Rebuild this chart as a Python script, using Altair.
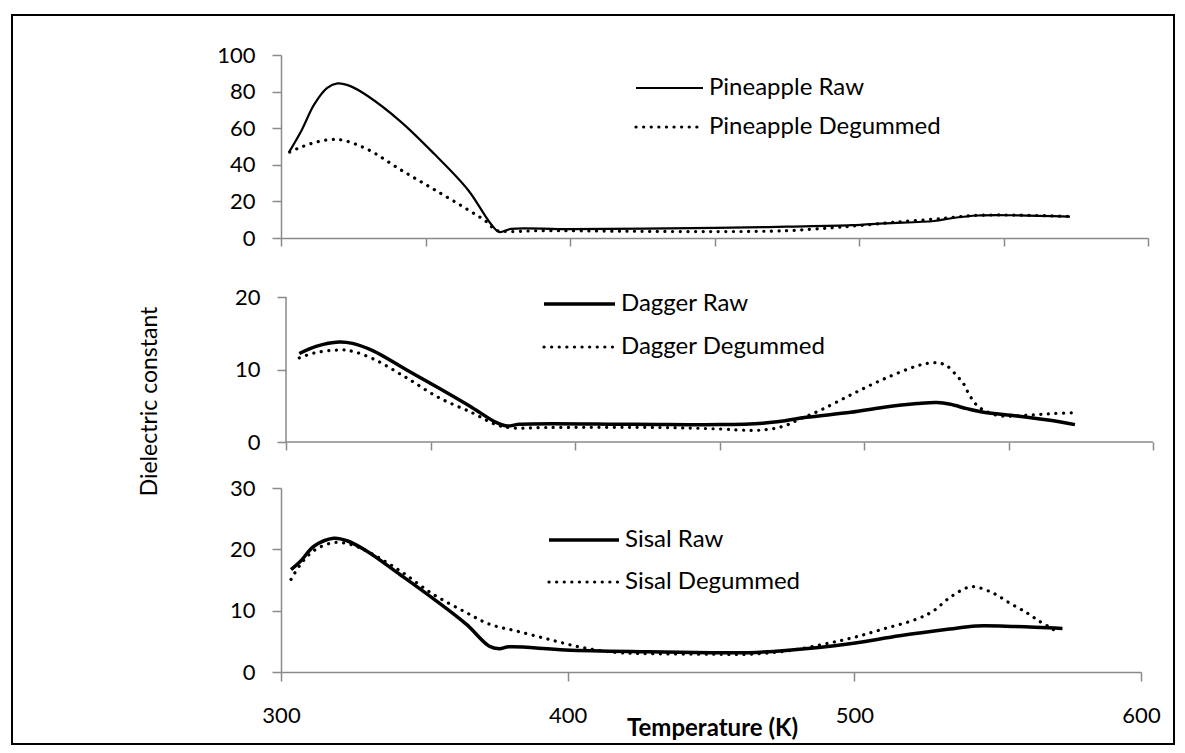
import altair as alt
import pandas as pd

FONT = "Lato"
INK = "#000000"
AXIS_GRAY = "#8a8a8a"

# ---------------- data ----------------
x_ticks_minor = [300, 350, 400, 450, 500, 550, 600]
x_ticks_major = [300, 400, 500, 600]

pine_y_ticks = [0, 20, 40, 60, 80, 100]
dag_y_ticks = [0, 10, 20]
sis_y_ticks = [0, 10, 20, 30]

pine_labels = ["Pineapple Raw", "Pineapple Degummed"]
dag_labels = ["Dagger Raw", "Dagger Degummed"]
sis_labels = ["Sisal Raw", "Sisal Degummed"]

pine_raw_T = [303, 307, 311.5, 316, 319.6, 324, 330, 341.5, 353, 364.6, 372.7, 375.5, 379.6,
              400, 450, 475, 497.5, 509, 526, 532, 541, 555, 573]
pine_raw_v = [47.5, 58.5, 73, 82, 84.5, 83, 77.6, 63.5, 46.0, 26.5, 7.5, 3.3, 5.0,
              4.8, 5.5, 6.2, 7.0, 8.0, 9.3, 10.8, 12.3, 12.4, 11.7]

pine_deg_T = [303, 307, 312.7, 318.4, 321.8, 330, 341.5, 353, 364.6, 371.5, 374, 377, 390,
              420, 450, 475, 490, 500, 513, 526, 533, 541, 555, 573]
pine_deg_v = [47, 49.7, 52.6, 53.9, 53.3, 48.4, 37.2, 26.5, 15.5, 8.4, 4.5, 3.6, 4.0,
              3.7, 3.5, 4.0, 5.5, 6.8, 8.7, 10.3, 11.3, 12.4, 12.5, 11.8]

dag_raw_T = [304.6, 310.4, 318.4, 323, 330, 341.5, 353, 364.6, 372.7, 376.7, 380.7, 420, 450,
             465, 472, 480, 495.4, 506.9, 518.4, 525.3, 529.9, 535.6, 541.4, 552.9, 564.4, 573]
dag_raw_v = [12.2, 13.2, 13.8, 13.6, 12.6, 10.0, 7.4, 4.7, 2.7, 2.2, 2.45, 2.45, 2.4,
             2.6, 2.9, 3.4, 4.1, 4.8, 5.3, 5.45, 5.2, 4.6, 4.1, 3.6, 3.0, 2.4]

dag_deg_T = [304.6, 310, 318.4, 322, 330, 341.5, 353, 364.6, 372.7, 378, 390, 430, 450, 461.7,
             468, 473, 478, 485, 495.4, 506.9, 518.4, 523, 525.9, 528.7, 532.2, 534.5, 536.2,
             538.5, 541.4, 547.1, 556.3, 564.4, 573]
dag_deg_v = [11.6, 12.3, 12.7, 12.6, 11.5, 8.9, 6.1, 4.0, 2.4, 1.95, 2.0, 2.0, 1.8, 1.6,
             1.8, 2.3, 3.2, 4.4, 6.5, 8.7, 10.5, 10.9, 10.9, 10.5, 9.1, 8.0, 6.7,
             5.3, 4.4, 3.6, 3.7, 3.9, 4.05]

sis_raw_T = [303.5, 306.9, 311.5, 318.4, 323, 330, 341.5, 353, 364.6, 372.7, 376.1, 379.6,
             399.2, 428, 450, 463, 476, 498.4, 515.8, 533.2, 542.5, 556.4, 572.6]
sis_raw_v = [16.7, 18.1, 20.5, 21.8, 21.4, 19.7, 15.9, 12.0, 7.8, 4.2, 3.8, 4.1,
             3.6, 3.3, 3.15, 3.15, 3.5, 4.6, 5.9, 7.0, 7.5, 7.4, 7.1]

sis_deg_T = [303.5, 306.9, 311.5, 318.4, 324.2, 330, 341.5, 353, 364.6, 372.7, 382, 393.6,
             405, 416.6, 428, 450, 463, 476, 488.9, 499.5, 510, 521.6, 527.4, 533.2, 539,
             541.9, 548.3, 554, 560, 564.5, 569.2, 571.5]
sis_deg_v = [15.1, 17.6, 19.8, 21.1, 20.8, 19.7, 16.5, 12.7, 9.7, 7.8, 6.7, 5.3,
             4.0, 3.2, 3.0, 2.9, 2.9, 3.4, 4.5, 5.6, 7.0, 8.6, 9.9, 12.1, 13.7,
             13.9, 12.9, 11.3, 9.7, 8.3, 7.0, 6.2]

TICK_FS = 22
LEG_FS = 24
TITLE_FS = 23
DOT = [0.1, 7.5]
DOT_W = 3.2
INTERP = "catmull-rom"


def legend_layers(labels, raw_w, x0, x1, xt, y_raw, y_deg):
    out = []
    for lab, y, dotted in [(labels[0], y_raw, False), (labels[1], y_deg, True)]:
        d = pd.DataFrame({"label": [lab]})
        if dotted:
            rule = alt.Chart(d).mark_rule(color=INK, strokeWidth=DOT_W, strokeDash=DOT, strokeCap="round")
        else:
            rule = alt.Chart(d).mark_rule(color=INK, strokeWidth=raw_w)
        rule = rule.encode(x=alt.value(x0), x2=alt.value(x1), y=alt.value(y))
        txt = alt.Chart(d).mark_text(align="left", baseline="middle", font=FONT, fontSize=LEG_FS,
                                     color=INK).encode(x=alt.value(xt), y=alt.value(y), text="label:N")
        out += [rule, txt]
    return out


def series_layers(raw_T, raw_v, deg_T, deg_v, raw_w, x_dom, y_dom, x_axis, y_axis):
    raw_df = pd.DataFrame({"T": raw_T, "v": raw_v})
    deg_df = pd.DataFrame({"T": deg_T, "v": deg_v})
    x = alt.X("T:Q", scale=alt.Scale(domain=x_dom, nice=False, zero=False), axis=x_axis)
    y = alt.Y("v:Q", scale=alt.Scale(domain=y_dom, nice=False, zero=False), axis=y_axis)
    raw = alt.Chart(raw_df).mark_line(color=INK, strokeWidth=raw_w, interpolate=INTERP,
                                      strokeJoin="round").encode(x=x, y=y)
    deg = alt.Chart(deg_df).mark_line(color=INK, strokeWidth=DOT_W, strokeDash=DOT, strokeCap="round",
                                      interpolate=INTERP).encode(x=x, y=y)
    return [raw, deg]


Y_AX = dict(tickSize=9, labelPadding=17, grid=False)

top_x_axis = alt.Axis(values=x_ticks_minor, labels=False, tickSize=8, title=None, grid=False)

# ---------------- top panel: pineapple ----------------
border = alt.Chart(pd.DataFrame({"b": [0]})).mark_rect(
    fill="transparent", stroke=INK, strokeWidth=2
).encode(x=alt.value(-269), x2=alt.value(893), y=alt.value(-40), y2=alt.value(689))

top = alt.layer(
    *series_layers(pine_raw_T, pine_raw_v, pine_deg_T, pine_deg_v, 2.2, [300, 600],
                   [pine_y_ticks[0], pine_y_ticks[-1]], top_x_axis,
                   alt.Axis(values=pine_y_ticks, title=None, **Y_AX)),
    *legend_layers(pine_labels, 2.2, 355, 422, 428, 33, 72),
    border,
).properties(width=867, height=183)

# ---------------- middle panel: dagger ----------------
# plot area starts 5 px left of the 300 K position and 13 px above the 20 mark
mid_px_per_unit = 867 / 300.0
mid_x_dom = [300 - 5 / mid_px_per_unit, 600]
mid_y_dom = [0, 20 * 158 / 145.0]

mid_x_axis = alt.Axis(values=x_ticks_minor, labels=False, tickSize=8, title=None, grid=False, domain=False)
mid_y_axis = alt.Axis(values=dag_y_ticks, domain=False, offset=-5,
                      title="Dielectric constant", titleX=-137, titleY=117, titleAngle=270,
                      titleAlign="center", titleBaseline="middle", titleFontWeight="normal",
                      titleFontSize=TITLE_FS, **Y_AX)

mid_axis_df = pd.DataFrame({"a": [0]})
mid_xline = alt.Chart(mid_axis_df).mark_rule(color=AXIS_GRAY, strokeWidth=1.5).encode(
    x=alt.datum(300), x2=alt.datum(600), y=alt.datum(0))
mid_yline = alt.Chart(mid_axis_df).mark_rule(color=AXIS_GRAY, strokeWidth=1.5).encode(
    x=alt.datum(300), y=alt.datum(0), y2=alt.datum(20))

mid = alt.layer(
    *series_layers(dag_raw_T, dag_raw_v, dag_deg_T, dag_deg_v, 3.5, mid_x_dom, mid_y_dom,
                   mid_x_axis, mid_y_axis),
    mid_xline, mid_yline,
    *legend_layers(dag_labels, 3.5, 263, 334, 340, 20, 63),
).properties(width=872, height=158)

# ---------------- bottom panel: sisal ----------------
bot_x_axis = alt.Axis(values=x_ticks_major, tickSize=9, labelPadding=24, labelFlush=False, grid=False,
                      title="Temperature (K)", titleX=431, titleY=56, titleAlign="center",
                      titleBaseline="middle", titleFontWeight="bold", titleFontSize=24)

bot = alt.layer(
    *series_layers(sis_raw_T, sis_raw_v, sis_deg_T, sis_deg_v, 3.5, [300, 600],
                   [sis_y_ticks[0], sis_y_ticks[-1]], bot_x_axis,
                   alt.Axis(values=sis_y_ticks, title=None, **Y_AX)),
    *legend_layers(sis_labels, 3.5, 268, 338, 344, 52, 94),
).properties(width=860, height=184)

chart = alt.vconcat(top, mid, bot, spacing=46, bounds="flush").properties(
    padding={"left": 2, "top": 5, "right": 0, "bottom": 0},
    background="white",
).configure_view(stroke="transparent").configure_axis(
    domainColor=AXIS_GRAY, domainWidth=1.5, tickColor=AXIS_GRAY, tickWidth=1.5,
    labelFont=FONT, labelFontSize=TICK_FS, labelColor=INK,
    titleFont=FONT, titleColor=INK,
)

chart.save("out.html", embed_options={"renderer": "svg", "actions": False})
